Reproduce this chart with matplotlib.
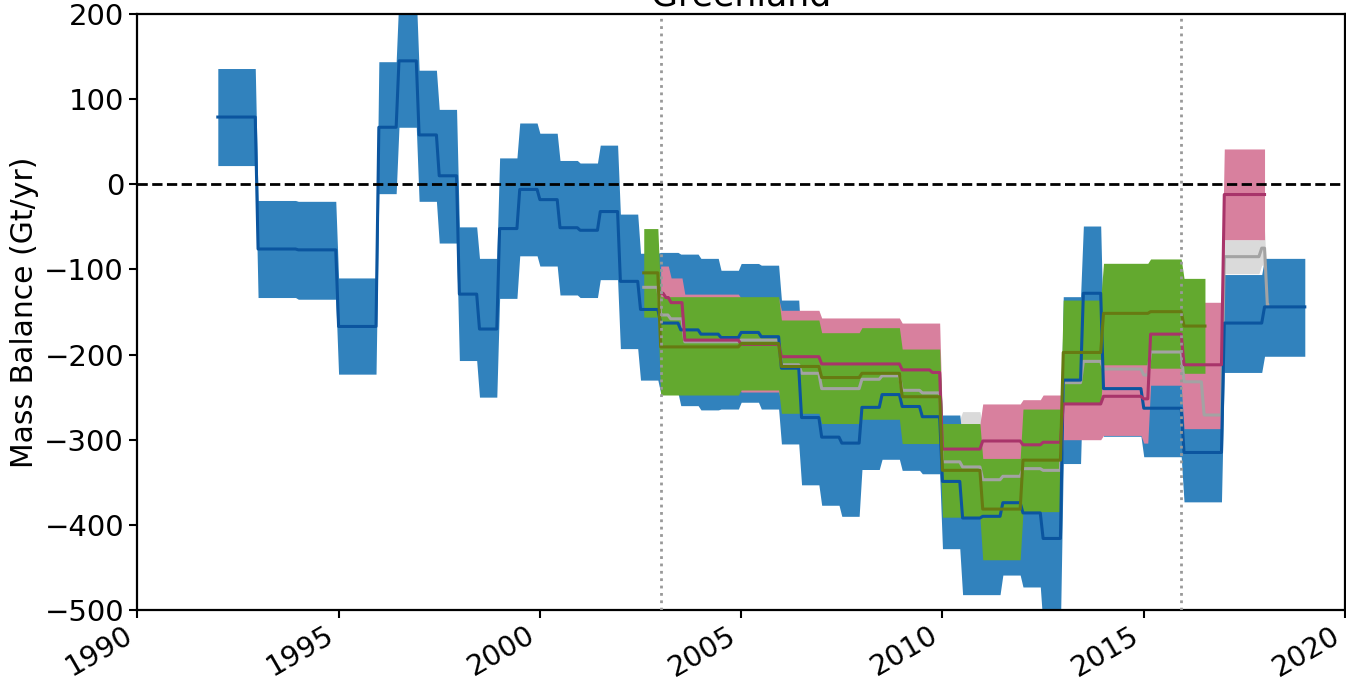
import numpy as np
import matplotlib
matplotlib.use('Agg')
import matplotlib.pyplot as plt

# step edges (decimal years) and mass balance values (Gt/yr)
blue_edges = [1992.0, 1993.0, 1994.0, 1995.0, 1996.0, 1996.5, 1997.0, 1997.5, 1998.0, 1998.5,
              1999.0, 1999.5, 2000.0, 2000.5, 2001.0, 2001.5, 2002.0, 2002.5, 2003.0, 2003.5,
              2004.0, 2004.5, 2005.0, 2005.5, 2006.0, 2006.5, 2007.0, 2007.5, 2008.0, 2008.5,
              2009.0, 2009.5, 2010.0, 2010.5, 2011.0, 2011.5, 2012.0, 2012.5, 2013.0, 2013.5,
              2014.0, 2015.0, 2016.0, 2017.0, 2018.0, 2019.0]
blue_mid = [79, -76, -77, -167, 67, 145, 58, 10, -129, -170,
            -52, -6, -18, -51, -54, -32, -114, -147, -163, -171,
            -176, -180, -174, -179, -216, -274, -297, -304, -262, -247,
            -261, -273, -349, -392, -390, -374, -386, -416, -230, -128,
            -240, -263, -315, -163, -144]
blue_hi = [136, -19, -20, -110, 144, 223, 134, 88, -50, -87,
           31, 72, 60, 28, 25, 46, -35, -81, -80, -82,
           -87, -101, -93, -95, -136, -195, -217, -218, -189, -172,
           -186, -208, -271, -302, -300, -288, -300, -316, -132, -49,
           -183, -206, -258, -106, -87]
blue_lo = [22, -133, -135, -223, -11, 67, -20, -69, -207, -250,
           -134, -84, -96, -130, -133, -112, -193, -230, -245, -260,
           -265, -264, -256, -264, -305, -353, -377, -390, -335, -323,
           -336, -340, -428, -482, -482, -459, -473, -520, -328, -207,
           -296, -320, -373, -221, -202]

pink_edges = [2003.0, 2003.13, 2003.26, 2003.6, 2005.0, 2006.0, 2007.0, 2009.0, 2009.75, 2010.0,
              2011.0, 2012.0, 2012.5, 2013.0, 2014.0, 2015.0, 2015.17, 2016.0, 2017.0, 2018.0]
pink_mid = [-128, -133, -139, -183, -188, -202.5, -211, -218, -221, -311,
            -301.5, -306, -303, -258, -249, -252, -176, -212, -12]
pink_hi = [-96, -96, -110, -129, -134, -148, -157, -163, -163, -282,
           -258, -253, -247.5, -216, -203, -196, -116, -138.6, 41.5]
pink_lo = [-160, -170, -168, -237, -244, -257, -265, -273, -276, -346,
           -345, -359, -358, -300, -295, -304, -236, -287, -65]

gray_edges = [2002.58, 2003.0, 2003.25, 2003.6, 2005.0, 2006.0, 2006.5, 2007.0, 2008.0, 2008.5,
              2009.0, 2009.5, 2010.0, 2010.5, 2011.0, 2011.5, 2012.0, 2012.5, 2013.0, 2013.5,
              2014.0, 2015.0, 2015.17, 2016.0, 2016.5, 2017.0, 2017.93, 2018.07, 2018.08]
gray_mid = [-121, -153.5, -158, -185, -183, -212, -222, -240, -229, -225,
            -242, -245, -326, -332, -347, -343, -334, -336, -233, -208,
            -217, -224, -197, -232, -271, -85, -75, -142]
gray_hi = [-91, -108, -113, -140, -138, -167, -177, -195, -184, -180,
           -197, -200, -276, -267, -287, -283, -274, -276, -183, -158,
           -167, -174, -147, -182, -221, -65, -55, -122]
gray_lo = [-151, -198, -203, -230, -228, -257, -267, -285, -274, -270,
           -287, -290, -376, -397, -407, -403, -394, -396, -283, -258,
           -267, -274, -247, -282, -321, -105, -95, -162]

green_edges = [2002.58, 2003.0, 2005.0, 2006.0, 2007.0, 2008.0, 2009.0, 2010.0, 2011.0, 2012.0,
               2013.0, 2014.0, 2015.17, 2016.0, 2016.52]
green_mid = [-104, -191, -187, -214, -227, -222, -249.5, -336, -381.5, -324,
             -197.5, -151.6, -149.6, -166.5]
green_hi = [-52, -132, -132, -159.4, -174.3, -168.4, -193.5, -281, -322, -264,
            -136, -92.8, -87.7, -110.5]
green_lo = [-156, -247.5, -241.6, -269, -281, -276, -304.5, -391, -441, -384.5,
            -257, -212, -216, -222]

mission_dates = [2003.0, 2015.92]


def steps(edges, vals, ramp=0.07):
    # monthly running values: flat over each interval, one-month ramp into the next
    x, y = [], []
    for i, v in enumerate(vals):
        x += [edges[i], max(edges[i], edges[i + 1] - ramp)]
        y += [v, v]
    x[-1] = edges[-1]
    return np.array(x), np.array(y)


series = [
    (gray_edges, gray_mid, gray_lo, gray_hi, '#dadada', '#a3a3a3'),
    (blue_edges, blue_mid, blue_lo, blue_hi, '#3182bd', '#0b559f'),
    (pink_edges, pink_mid, pink_lo, pink_hi, '#d8809e', '#a8346a'),
    (green_edges, green_mid, green_lo, green_hi, '#63a92f', '#677a12'),
]

fig = plt.figure(figsize=(13.46, 6.81), dpi=100)
ax = fig.add_axes([0.1020, 0.1043, 0.8973, 0.8751])

for edges, mid, lo, hi, fc, lc in series:
    x, ylo = steps(edges, lo)
    _, yhi = steps(edges, hi)
    ax.fill_between(x, ylo, yhi, color=fc, lw=0, zorder=1)

for edges, mid, lo, hi, fc, lc in series:
    x, y = steps(edges, mid)
    ax.plot(x, y, color=lc, lw=2.2, zorder=3)

ax.axhline(0, color='k', ls='--', lw=2, zorder=4)
for d in mission_dates:
    ax.axvline(d, color='#999999', ls=':', lw=2, zorder=4)

ax.set_xlim(1990, 2020)
ax.set_ylim(-500, 200)
ax.set_xticks(range(1990, 2021, 5))
ax.set_yticks(range(-500, 201, 100))
ax.tick_params(labelsize=21, length=6, width=1.5)
ax.tick_params(axis='x', labelsize=20.5, pad=2)
plt.setp(ax.get_xticklabels(), rotation=30, ha='right')
for s in ax.spines.values():
    s.set_linewidth(1.6)
ax.set_ylabel('Mass Balance (Gt/yr)', fontsize=21.5)
ax.set_title('Greenland', fontsize=25)

fig.savefig('out.png', dpi=100)
